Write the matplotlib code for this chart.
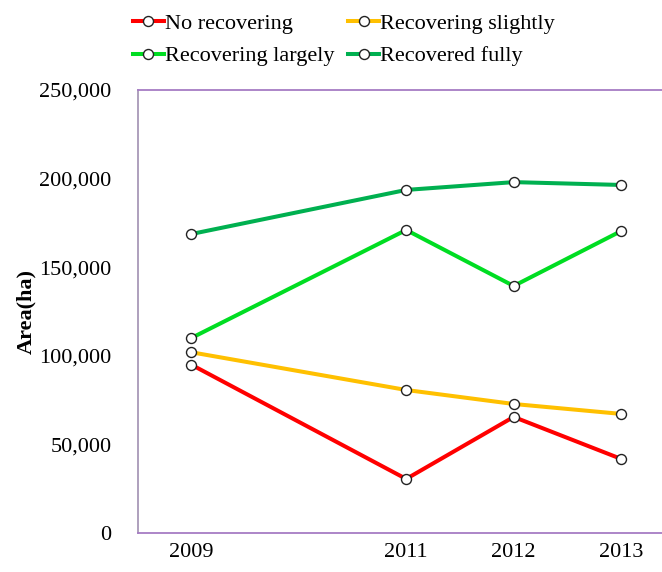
import matplotlib.pyplot as plt
from matplotlib.ticker import FuncFormatter

plt.rcParams['font.family'] = ['Liberation Serif', 'DejaVu Serif']

years = [2009, 2011, 2012, 2013]
no_recovering = [95000, 30500, 65500, 41800]
recovering_slightly = [102000, 80700, 72800, 67200]
recovering_largely = [110000, 171000, 139400, 170400]
recovered_fully = [168700, 193600, 198000, 196400]

series = [
    ("No recovering", no_recovering, "#FF0000"),
    ("Recovering slightly", recovering_slightly, "#FFC000"),
    ("Recovering largely", recovering_largely, "#00DD22"),
    ("Recovered fully", recovered_fully, "#00B050"),
]

fig = plt.figure(figsize=(6.62, 5.72), dpi=100)
ax = fig.add_axes([0.2085, 0.0682, 0.7915, 0.7745])

lines = {}
for name, vals, col in series:
    ln, = ax.plot(years, vals, color=col, lw=2.9, marker="o", ms=7.2,
                  mfc="white", mec="#222222", mew=1.0, label=name)
    lines[name] = ln

ax.set_xlim(2008.505, 2013.38)
ax.set_ylim(0, 250000)
ax.set_xticks(years)
ax.set_yticks(range(0, 250001, 50000))
ax.yaxis.set_major_formatter(FuncFormatter(lambda v, p: f"{int(v):,}"))
ax.tick_params(length=0, labelsize=16)
ax.tick_params(axis="x", pad=7)
ax.tick_params(axis="y", pad=19)

for s in ["top", "bottom"]:
    ax.spines[s].set_color("#A67CC4")
    ax.spines[s].set_linewidth(1.3)
ax.spines["left"].set_color("#A898B8")
ax.spines["left"].set_linewidth(1.3)
ax.spines["right"].set_visible(False)

ax.set_ylabel("Area(ha)", fontsize=16, fontweight="bold", labelpad=2)

# column-first fill in matplotlib, so order to read row by row
order = ["No recovering", "Recovering largely", "Recovering slightly", "Recovered fully"]
fig.legend([lines[n] for n in order], order, loc="upper left",
           bbox_to_anchor=(0.170, 1.012), ncol=2, frameon=False, fontsize=16,
           handlelength=1.4, handletextpad=0.05, columnspacing=0.62,
           labelspacing=0.55)

fig.savefig("out.png", dpi=100)
